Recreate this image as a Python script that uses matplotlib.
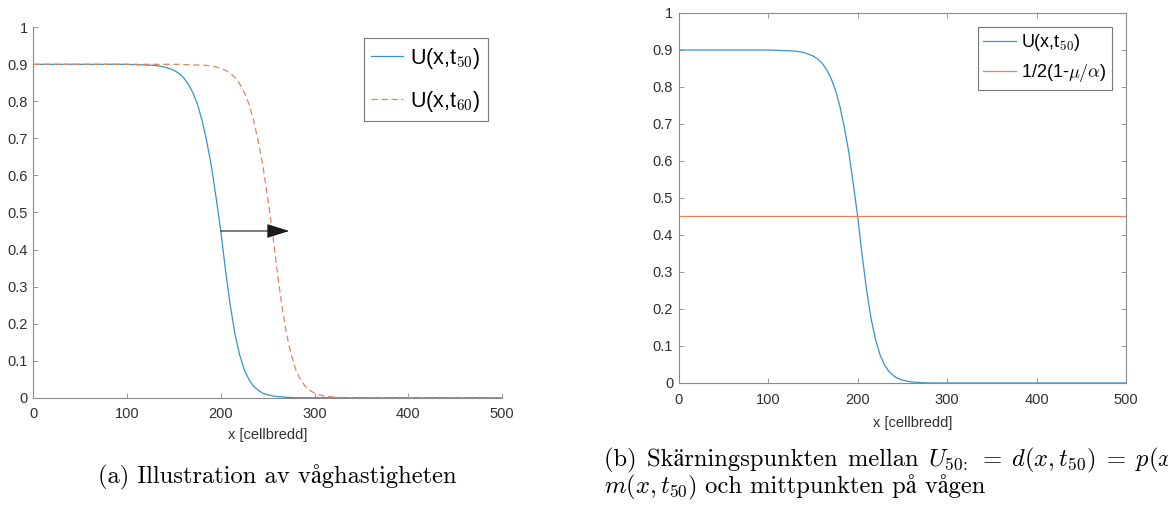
import numpy as np
import matplotlib
matplotlib.use('Agg')
import matplotlib.pyplot as plt

# wave front U(x,t) at two time steps
blue_x = [0, 100, 110, 120, 130, 140, 150,
          155, 160, 165, 170, 175, 180, 185, 190, 195, 200, 205,
          210, 215, 220, 225, 230, 235, 240, 245, 250, 255, 260,
          270, 280, 300, 500]
blue_y = [0.900, 0.900, 0.899, 0.898, 0.897, 0.893, 0.884,
          0.876, 0.865, 0.848, 0.825, 0.793, 0.749, 0.692, 0.625, 0.540, 0.450, 0.345,
          0.251, 0.174, 0.117, 0.076, 0.049, 0.031, 0.020, 0.012, 0.008, 0.005, 0.003,
          0.001, 0.000, 0.000, 0.000]

red_x = [0, 155, 165, 175, 185, 195, 205,
         210, 215, 220, 225, 230, 235, 240, 245, 250, 255, 260,
         265, 270, 275, 280, 285, 290, 295, 300, 305, 310, 315,
         325, 335, 355, 500]
red_y = [0.900, 0.900, 0.899, 0.898, 0.897, 0.893, 0.884,
         0.876, 0.865, 0.848, 0.825, 0.793, 0.749, 0.692, 0.625, 0.540, 0.450, 0.345,
         0.251, 0.174, 0.117, 0.076, 0.049, 0.031, 0.020, 0.012, 0.008, 0.005, 0.003,
         0.001, 0.000, 0.000, 0.000]

mid_level = 0.45          # 1/2(1-mu/alpha)
arrow_from = 200
arrow_to = 273

x_ticks = [0, 100, 200, 300, 400, 500]
y_ticks = [0, 0.1, 0.2, 0.3, 0.4, 0.5, 0.6, 0.7, 0.8, 0.9, 1]
y_tick_labels = ['0', '0.1', '0.2', '0.3', '0.4', '0.5', '0.6', '0.7', '0.8', '0.9', '1']

plt.rcParams['font.family'] = ['Liberation Sans', 'DejaVu Sans']
plt.rcParams['mathtext.fontset'] = 'cm'

blue = '#3593cf'
orange = '#e0865c'
spine_gray = '#8a8a8a'
label_gray = '#303030'
caption_font = ['cmr10', 'STIXGeneral', 'DejaVu Serif']
caption_size = 17.7

fig = plt.figure(figsize=(11.68, 5.05), dpi=100)


def style_axes(ax, boxed):
    ax.set_xlim(0, 500)
    ax.set_ylim(0, 1)
    ax.set_xticks(x_ticks)
    ax.set_xticklabels([str(t) for t in x_ticks])
    ax.set_yticks(y_ticks)
    ax.set_yticklabels(y_tick_labels)
    for side in ['left', 'bottom', 'top', 'right']:
        ax.spines[side].set_color(spine_gray)
        ax.spines[side].set_linewidth(0.8)
        if not boxed and side in ['top', 'right']:
            ax.spines[side].set_visible(False)
    ax.tick_params(direction='in', length=3.5, width=0.6, color=spine_gray,
                   labelsize=10.5, labelcolor=label_gray,
                   top=boxed, right=boxed)
    ax.tick_params(axis='x', pad=7)
    ax.tick_params(axis='y', pad=4)


def caption_line(x_px, y_px, pieces, gap_px=0):
    # pieces written one after another on a common baseline, gap_px of extra
    # room between them (justified look); plain words use the serif family
    # (it has å/ä), math pieces go through mathtext
    renderer = fig.canvas.get_renderer()
    x = x_px / 1168
    for piece in pieces:
        t = fig.text(x, 1 - y_px / 505, piece, ha='left', va='baseline',
                     fontsize=caption_size, family=caption_font)
        x = (t.get_window_extent(renderer).x1 + gap_px) / 1168


# (a) two fronts and the shift between them
ax1 = fig.add_axes([0.0285, 0.2125, 0.4013, 0.7335])
style_axes(ax1, boxed=False)
ax1.plot(blue_x, blue_y, color=blue, lw=0.9, label=r'U(x,t$_{\mathsf{50}}$)')
ax1.plot(red_x, red_y, color=orange, lw=0.9, dashes=(5, 3), label=r'U(x,t$_{\mathsf{60}}$)')
ax1.annotate('', xy=(arrow_to, mid_level), xytext=(arrow_from, mid_level),
             arrowprops=dict(arrowstyle='-|>,head_length=0.7,head_width=0.22',
                             color='#1a1a1a', lw=0.8, mutation_scale=20,
                             shrinkA=0, shrinkB=0))
leg1 = ax1.legend(loc='upper right', bbox_to_anchor=(488 / 1168, 1 - 38 / 505),
                  bbox_transform=fig.transFigure, fontsize=15.5, fancybox=False,
                  edgecolor='#555555', handlelength=1.5, handletextpad=0.3,
                  borderpad=0.35, labelspacing=0.85, borderaxespad=0)
leg1.get_frame().set_linewidth(0.8)

# (b) front against the midpoint level
ax2 = fig.add_axes([0.5811, 0.2416, 0.3830, 0.7327])
style_axes(ax2, boxed=True)
ax2.plot(blue_x, blue_y, color=blue, lw=0.9, label=r'U(x,t$_{\mathsf{50}}$)')
ax2.axhline(mid_level, color=orange, lw=0.9, label=r'1/2(1-$\mu/\alpha$)')
leg2 = ax2.legend(loc='upper right', bbox_to_anchor=(1112 / 1168, 1 - 27 / 505),
                  bbox_transform=fig.transFigure, fontsize=13, fancybox=False,
                  edgecolor='#555555', handlelength=1.8, handletextpad=0.3,
                  borderpad=0.3, labelspacing=0.5, borderaxespad=0)
leg2.get_frame().set_linewidth(0.8)

# axis labels
fig.text(268 / 1168, 1 - 435 / 505, 'x [cellbredd]', ha='center', va='center',
         fontsize=10.5, color=label_gray)
fig.text(913 / 1168, 1 - 423 / 505, 'x [cellbredd]', ha='center', va='center',
         fontsize=10.5, color=label_gray)

# captions
fig.text(277 / 1168, 1 - 483 / 505, '(a) Illustration av våghastigheten',
         ha='center', va='baseline', fontsize=caption_size, family=caption_font)
caption_line(604, 466, ['(b) ', 'Skärningspunkten ', 'mellan ',
                        r'$U_{50\!:}\;=\;d(x,t_{50})\;=\;p(x$'], gap_px=2)
caption_line(604, 493, [r'$m(x,t_{50})$', ' och mittpunkten på vågen'])

fig.savefig('out.png', dpi=100)
